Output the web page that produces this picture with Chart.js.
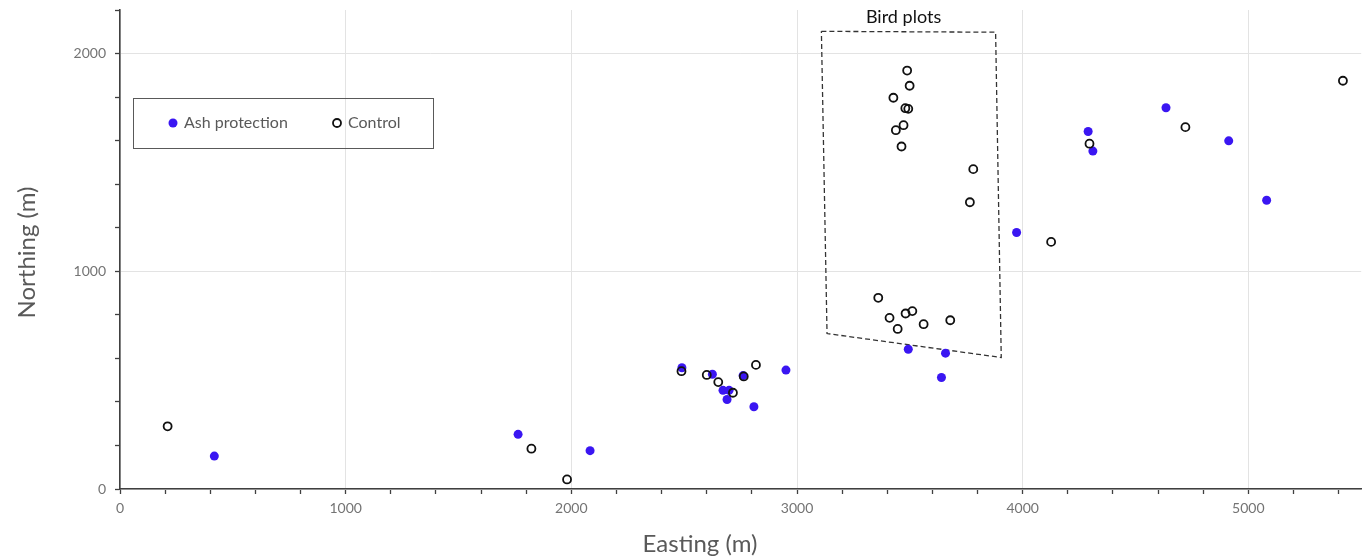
<!DOCTYPE html>
<html lang="en">
  <head>
    <meta charset="UTF-8" />
    <title>Bird plots - Easting / Northing</title>
    <script src="https://cdn.jsdelivr.net/npm/chart.js"></script>
    <style>
      body { margin: 0; background: #ffffff; }
      .grafico { width: 1367px; height: 559px; }
    </style>
  </head>
  <body>
    <div class="grafico">
      <canvas id="myCanvas"></canvas>
    </div>
  </body>
</html>
<script>
  // Ash protection plots (easting, northing in m)
  const ashEasting = [418, 1764, 2083, 2490, 2625, 2672, 2699, 2690, 2761, 2809, 2951, 3493, 3658, 3640, 3973, 4290, 4311, 4635, 4913, 5081];
  const ashNorthing = [151, 251, 176, 557, 527, 453, 453, 411, 521, 378, 546, 642, 624, 512, 1178, 1642, 1552, 1751, 1599, 1326];

  // Control plots
  const controlEasting = [211, 1823, 1981, 2488, 2600, 2651, 2716, 2764, 2818, 3360, 3410, 3446, 3481, 3511, 3561, 3679, 3488, 3499, 3427, 3480, 3493, 3472, 3438, 3463, 3781, 3766, 4126, 4296, 4721, 5419];
  const controlNorthing = [288, 185, 44, 541, 524, 491, 442, 517, 570, 878, 786, 735, 806, 817, 757, 775, 1922, 1852, 1797, 1749, 1746, 1671, 1648, 1573, 1469, 1317, 1135, 1586, 1662, 1875];

  // dashed outline round the bird plots
  const birdEasting = [3108, 3880, 3905, 3133, 3108];
  const birdNorthing = [2102, 2098, 604, 714, 2102];
  const birdLabel = "Bird plots";
  const birdLabelPos = [3472, 2165];

  const xTitle = "Easting (m)";
  const yTitle = "Northing (m)";
  const seriesNames = ["Ash protection", "Control"];

  const azul = "rgb(58, 22, 242)";
  const cinza = "#595959";

  function pontos(xs, ys) {
    let lista = [];
    for (let i = 0; i < xs.length; i++) {
      lista.push({ x: xs[i], y: ys[i] });
    }
    return lista;
  }

  // titles, legend box and "Bird plots" label
  const extras = {
    id: "extras",
    afterDraw(chart) {
      const ctx = chart.ctx;
      const area = chart.chartArea;
      const sx = chart.scales.x;
      const sy = chart.scales.y;
      ctx.save();

      ctx.fillStyle = cinza;
      ctx.font = "24px Lato";
      ctx.textAlign = "center";
      ctx.textBaseline = "middle";
      ctx.fillText(xTitle, 700, 544);
      ctx.save();
      ctx.translate(27, (area.top + area.bottom) / 2 + 3);
      ctx.rotate(-Math.PI / 2);
      ctx.fillText(yTitle, 0, 0);
      ctx.restore();

      ctx.fillStyle = "#111111";
      ctx.font = "18px Lato";
      ctx.fillText(birdLabel, sx.getPixelForValue(birdLabelPos[0]), sy.getPixelForValue(birdLabelPos[1]));

      // legend
      ctx.strokeStyle = cinza;
      ctx.lineWidth = 1;
      ctx.strokeRect(133.5, 98.5, 300, 50);
      ctx.beginPath();
      ctx.arc(173, 123, 4.5, 0, Math.PI * 2);
      ctx.fillStyle = azul;
      ctx.fill();
      ctx.beginPath();
      ctx.arc(337, 123, 4, 0, Math.PI * 2);
      ctx.strokeStyle = "#111111";
      ctx.lineWidth = 1.8;
      ctx.stroke();
      ctx.fillStyle = cinza;
      ctx.font = "16px Lato";
      ctx.textAlign = "left";
      ctx.fillText(seriesNames[0], 184, 123);
      ctx.fillText(seriesNames[1], 348, 123);

      ctx.restore();
    },
  };

  function gradeCor(ctx) {
    if (ctx.tick && ctx.tick.value % 1000 === 0) return "#e3e3e3";
    return "rgba(0,0,0,0)";
  }

  function rotulo(v) {
    return v % 1000 === 0 ? v : "";
  }

  const config = {
    type: "scatter",
    data: {
      datasets: [
        {
          label: seriesNames[1],
          data: pontos(controlEasting, controlNorthing),
          backgroundColor: "rgba(0,0,0,0)",
          borderColor: "#111111",
          borderWidth: 1.8,
          pointRadius: 4,
          order: 0,
        },
        {
          label: seriesNames[0],
          data: pontos(ashEasting, ashNorthing),
          backgroundColor: azul,
          borderWidth: 0,
          pointRadius: 4.5,
          order: 1,
        },
        {
          label: birdLabel,
          data: pontos(birdEasting, birdNorthing),
          showLine: true,
          borderColor: "#333333",
          borderWidth: 1.3,
          borderDash: [5, 3],
          pointRadius: 0,
          fill: false,
          order: 2,
        },
      ],
    },
    options: {
      responsive: true,
      maintainAspectRatio: false,
      animation: false,
      layout: { padding: { top: 10, right: 4, left: 0, bottom: 0 } },
      plugins: {
        legend: { display: false },
        tooltip: { enabled: false },
      },
      scales: {
        x: {
          type: "linear",
          min: 0,
          max: 5500,
          afterFit: function (scale) {
            scale.height = 70;
            scale.paddingRight = 0;
            scale.paddingLeft = 0;
          },
          ticks: {
            stepSize: 200,
            includeBounds: false,
            autoSkip: false,
            maxRotation: 0,
            padding: 6,
            color: "#747474",
            font: { family: "Lato", size: 14 },
            callback: rotulo,
          },
          grid: { color: gradeCor, tickColor: "#404040", tickLength: 5, tickWidth: 1.3 },
          border: { color: "#404040", width: 1.6 },
        },
        y: {
          type: "linear",
          min: 0,
          max: 2200,
          afterFit: function (scale) {
            scale.width = 120;
            scale.paddingTop = 0;
            scale.paddingBottom = 0;
          },
          ticks: {
            stepSize: 200,
            includeBounds: false,
            autoSkip: false,
            padding: 9,
            color: "#747474",
            font: { family: "Lato", size: 14 },
            callback: rotulo,
          },
          grid: { color: gradeCor, tickColor: "#404040", tickLength: 5, tickWidth: 1.3 },
          border: { color: "#404040", width: 1.6 },
        },
      },
    },
    plugins: [extras],
  };

  new Chart(document.getElementById("myCanvas"), config);
</script>
